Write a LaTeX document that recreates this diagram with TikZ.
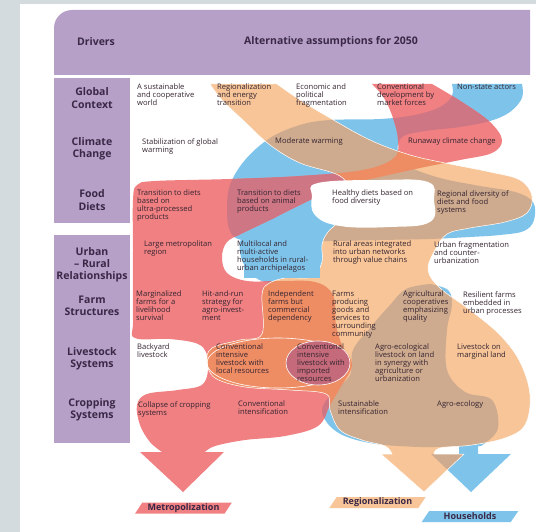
\documentclass[tikz,border=0pt]{standalone}
\usepackage{fontspec}
\setmainfont{Open Sans}
\usepackage{tikz}
\usetikzlibrary{shapes.geometric}

\definecolor{bggray}{RGB}{211,219,222}
\definecolor{drvpurple}{RGB}{182,160,200}
\definecolor{metrored}{RGB}{240,128,130}
\definecolor{regiopeach}{RGB}{247,197,152}
\definecolor{houseblue}{RGB}{126,196,234}
\definecolor{redblue}{RGB}{206,118,132}
\definecolor{redpeach}{RGB}{238,140,100}
\definecolor{bluepeach}{RGB}{206,170,142}
\definecolor{importrose}{RGB}{196,106,122}
\definecolor{labeltext}{RGB}{52,36,48}
\definecolor{headtext}{RGB}{58,40,70}

% ribbon outlines (pixel grid, y downwards)
\newcommand{\redribbon}{(372,84) -- (432,84)
  -- plot[smooth, tension=0.6] coordinates {(432,84) (462,102) (490,122) (502,140) (492,153) (460,160) (420,168) (375,178) (343,185) (300,205) (270,220) (243,233) (227,242) (222,257) (227,273) (247,281) (280,281) (315,282) (333,295) (336,325) (342,345) (352,365) (340,388) (330,405) (318,426) (285,436) (245,440) (215,446) (205,452)}
  -- (224,452) -- (183,492) -- (140,452) -- (162,452)
  -- plot[smooth, tension=0.6] coordinates {(162,452) (150,442) (140,425) (137,405) (147,394) (178,390) (203,384) (208,362) (200,345) (170,339) (135,338) (133,320) (133,250) (133,200) (137,185) (155,181) (230,179) (300,176) (363,170) (394,158) (398,140) (393,118) (384,98) (372,84)}
  -- cycle}
\newcommand{\peachribbon}{(210,84) -- (277,84)
  -- plot[smooth, tension=0.6] coordinates {(277,84) (300,100) (330,118) (370,140) (410,155) (450,164) (490,172) (520,180) (532,196) (527,213) (505,222) (470,228) (447,234) (435,250) (428,270) (440,288) (470,310) (500,335) (520,362) (530,395) (525,425) (505,438) (472,445) (440,448) (434,454)}
  -- (464,454) -- (424,492) -- (381,454) -- (392,454)
  -- plot[smooth, tension=0.6] coordinates {(392,454) (385,446) (362,440) (340,430) (330,410) (326,394) (290,390) (245,387) (215,378) (207,362) (212,348) (240,340) (262,334) (262,295) (268,284) (285,278) (312,277) (322,262) (322,245) (328,232) (345,215) (350,195) (340,176) (300,163) (270,145) (245,122) (222,100) (210,84)}
  -- cycle}
\newcommand{\blueribbon}{(452,84) -- (522,84)
  -- plot[smooth, tension=0.6] coordinates {(522,84) (522,98) (510,112) (490,121) (460,127) (425,131) (402,137) (398,152) (408,166) (440,178) (480,186) (515,192) (533,202) (534,220) (524,231) (500,235) (470,237) (430,239) (380,240) (330,241) (280,241) (242,240) (230,231) (227,210) (230,185) (245,160) (270,138) (300,125) (330,120) (380,119) (415,115) (440,107) (452,96) (452,84)}
  -- cycle}
\newcommand{\bluemulti}{(240,236) -- (326,238) -- (325,262) -- (316,278) -- (290,286) -- (258,281) -- (243,265) -- (239,249) -- cycle}
\newcommand{\bluelow}{(430,284)
  -- plot[smooth, tension=0.6] coordinates {(430,284) (448,290) (452,305) (447,330) (447,370) (465,392) (492,400) (498,428) (484,444) (478,446)}
  -- (478,454) -- (511,454) -- (471,492) -- (431,454) -- (459,454) -- (459,446)
  -- plot[smooth, tension=0.6] coordinates {(459,446) (420,447) (370,443) (337,432) (322,412) (332,393) (350,375) (353,350) (370,328) (390,305) (406,289) (430,284)}
  -- cycle}

\begin{document}
\begin{tikzpicture}[x=1pt, y=-1pt,
    lbl/.style={anchor=north west, inner sep=0pt, align=left, text=labeltext, font=\fontsize{7.6}{8}\selectfont},
    rowlbl/.style={align=center, inner sep=0pt, text=headtext, font=\fontsize{10.5}{12.2}\selectfont\bfseries},
    outlbl/.style={trapezium, trapezium left angle=55, trapezium right angle=125, trapezium stretches=true, minimum width=97, minimum height=11, inner sep=0pt, text=headtext, font=\fontsize{9}{10}\selectfont\bfseries}]
        \useasboundingbox (0,0) rectangle (536,532);

        % Draw the page and the white panel
        \fill[bggray] (0,0) rectangle (536,532);
        \fill[white] (20,4) rectangle (536,532);

        % Draw the header band and the drivers column
        \fill[drvpurple] (54,75) -- (54,28) arc[start angle=180, end angle=270, radius=18] -- (530,10) -- (530,75) -- cycle;
        \fill[drvpurple] (54,78) rectangle (130,223);
        \fill[drvpurple] (54,235) rectangle (130,443);

        % Draw the households ribbon
        \fill[houseblue] \blueribbon;
        \fill[houseblue, rounded corners=8pt] \bluemulti;
        \fill[houseblue] \bluelow;

        % Draw the metropolization ribbon, darker where it crosses blue
        \fill[metrored] \redribbon;
        \begin{scope}
            \clip \redribbon;
            \fill[redblue] \blueribbon;
            \fill[redblue, rounded corners=8pt] \bluemulti;
            \fill[redblue] \bluelow;
        \end{scope}

        % Draw the regionalization ribbon and its overlaps
        \fill[regiopeach] \peachribbon;
        \begin{scope}
            \clip \blueribbon;
            \fill[bluepeach] \peachribbon;
        \end{scope}
        \begin{scope}
            \clip \bluelow;
            \fill[bluepeach] \peachribbon;
        \end{scope}
        \begin{scope}
            \clip \redribbon;
            \fill[redpeach] \peachribbon;
        \end{scope}
        \draw[white, line width=0.5pt] \peachribbon;

        % Draw the white pocket and the livestock ovals
        \fill[white] plot[smooth cycle, tension=0.7] coordinates {(318,183) (380,180) (428,182) (434,200) (430,222) (390,227) (340,226) (315,215) (312,196)};
        \draw[white, line width=0.6pt] (278,363) ellipse (71 and 25);
        \fill[importrose, draw=white, line width=0.6pt] (318,363) ellipse (32 and 22);

        % Fill the households lobe of the urban row once more
        \fill[houseblue] (244,240) rectangle (320,278);

        % Write the header
        \node[rowlbl] (drivers) at (96,42) {Drivers};
        \node[rowlbl] (assume) at (331,42) {Alternative assumptions for 2050};

        % Write the drivers
        \node[rowlbl] (global) at (92,98) {Global\\Context};
        \node[rowlbl] (climate) at (92,149) {Climate\\Change};
        \node[rowlbl] (food) at (92,200) {Food\\Diets};
        \node[rowlbl] (urban) at (92,265) {Urban\\– Rural\\Relationships};
        \node[rowlbl] (farm) at (92,306) {Farm\\Structures};
        \node[rowlbl] (livestock) at (92,359) {Livestock\\Systems};
        \node[rowlbl] (cropping) at (92,410) {Cropping\\Systems};

        % Global context
        \node[lbl] (g1) at (137,84) {A sustainable\\and cooperative\\world};
        \node[lbl] (g2) at (217,84) {Regionalization\\and energy\\transition};
        \node[lbl] (g3) at (296,84) {Economic and\\political\\fragmentation};
        \node[lbl] (g4) at (377,84) {Conventional\\development by\\market forces};
        \node[lbl] (g5) at (457,84) {Non-state actors};

        % Climate change
        \node[lbl] (c1) at (142,138) {Stabilization of global\\warming};
        \node[lbl] (c2) at (275,138) {Moderate warming};
        \node[lbl] (c3) at (408,138) {Runaway climate change};

        % Food diets
        \node[lbl] (f1) at (137,190) {Transition to diets\\based on\\ultra-processed\\products};
        \node[lbl] (f2) at (237,190) {Transition to diets\\based on animal\\products};
        \node[lbl] (f3) at (332,190) {Healthy diets based on\\food diversity};
        \node[lbl] (f4) at (437,190) {Regional diversity of\\diets and food\\systems};

        % Urban - rural relationships
        \node[lbl] (u1) at (144,241) {Large metropolitan\\region};
        \node[lbl] (u2) at (237,241) {Multilocal and\\multi-active\\households in rural-\\urban archipelagos};
        \node[lbl] (u3) at (333,241) {Rural areas integrated\\into urban networks\\through value chains};
        \node[lbl] (u4) at (434,241) {Urban fragmentation\\and counter-\\urbanization};

        % Farm structures
        \node[lbl] (s1) at (136,291) {Marginalized\\farms for a\\livelihood\\survival};
        \node[lbl] (s2) at (202,291) {Hit-and-run\\strategy for\\agro-invest-\\ment};
        \node[lbl] (s3) at (268,291) {Independent\\farms but\\commercial\\dependency};
        \node[lbl] (s4) at (332,291) {Farms\\producing\\goods and\\services to\\surrounding\\community};
        \node[lbl] (s5) at (403,291) {Agricultural\\cooperatives\\emphasizing\\quality};
        \node[lbl] (s6) at (463,291) {Resilient farms\\embedded in\\urban processes};

        % Livestock systems
        \node[lbl] (l1) at (137,344) {Backyard\\livestock};
        \node[lbl] (l2) at (216,344) {Conventional\\intensive\\livestock with\\local resources};
        \node[lbl] (l3) at (297,344) {Conventional\\intensive\\livestock with\\imported\\resources};
        \node[lbl] (l4) at (375,344) {Agro-ecological\\livestock on land\\in synergy with\\agriculture or\\urbanization};
        \node[lbl] (l5) at (457,344) {Livestock on\\marginal land};

        % Cropping systems
        \node[lbl] (k1) at (138,401) {Collapse of cropping\\systems};
        \node[lbl] (k2) at (238,401) {Conventional\\intensification};
        \node[lbl] (k3) at (338,401) {Sustainable\\intensification};
        \node[lbl] (k4) at (437,401) {Agro-ecology};

        % Draw the scenario labels
        \node[outlbl, fill=metrored] (metro) at (183.5,508) {Metropolization};
        \node[outlbl, fill=regiopeach] (regio) at (377.5,502.5) {Regionalization};
        \node[outlbl, fill=houseblue] (house) at (470,516.5) {Households};
\end{tikzpicture}
\end{document}
